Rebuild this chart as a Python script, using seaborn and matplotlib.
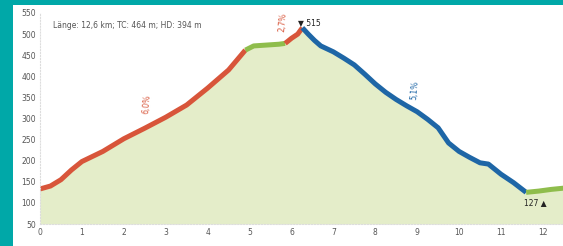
import matplotlib
matplotlib.use("Agg")
import matplotlib.pyplot as plt
import seaborn as sns
import pandas as pd
import numpy as np

# distance (km) and elevation (m) per segment
climb1_km = [0.0, 0.25, 0.5, 0.75, 1.0, 1.5, 2.0, 2.5, 3.0, 3.5, 4.0, 4.5, 4.9]
climb1_m = [133, 140, 155, 178, 198, 222, 252, 277, 303, 332, 372, 415, 462]
flat1_km = [4.9, 5.1, 5.4, 5.7, 5.85]
flat1_m = [462, 472, 474, 476, 478]
climb2_km = [5.85, 6.0, 6.15, 6.26]
climb2_m = [478, 490, 500, 515]
descent_km = [6.26, 6.4, 6.55, 6.7, 7.0, 7.25, 7.5, 7.75, 8.0, 8.25, 8.5, 8.75, 9.0, 9.25,
              9.5, 9.75, 10.0, 10.25, 10.5, 10.7, 11.0, 11.3, 11.6]
descent_m = [515, 500, 485, 472, 458, 443, 427, 405, 382, 362, 345, 330, 316, 298,
             278, 242, 222, 208, 195, 192, 168, 148, 125]
flat2_km = [11.6, 11.9, 12.2, 12.5]
flat2_m = [125, 128, 132, 135]

segments = ["climb1", "flat1", "climb2", "descent", "flat2"]
seg_colors = {"climb1": "#d8553a", "flat1": "#8fbd4c", "climb2": "#d8553a",
              "descent": "#1e66a6", "flat2": "#8fbd4c"}

xticks = list(range(0, 13))
yticks = list(range(50, 551, 50))
title_text = "Länge: 12,6 km; TC: 464 m; HD: 394 m"
grade_labels = ["6,0%", "2,7%", "5,1%"]
max_label = "▼ 515"
min_label = "127 ▲"

frames = []
for name, xs, ys in [("climb1", climb1_km, climb1_m), ("flat1", flat1_km, flat1_m),
                     ("climb2", climb2_km, climb2_m), ("descent", descent_km, descent_m),
                     ("flat2", flat2_km, flat2_m)]:
    frames.append(pd.DataFrame({"km": xs, "m": ys, "seg": name}))
df = pd.concat(frames, ignore_index=True)
profile = df.drop_duplicates(subset="km").sort_values("km")

sns.set_style("white")
plt.rcParams['font.family'] = ['DejaVu Sans']

W, H = 563, 246
fig = plt.figure(figsize=(W / 100, H / 100), dpi=100)
fig.patch.set_facecolor("#00a8a8")
# white panel
panel = fig.add_axes([13 / W, 0, 1 - 13 / W, 1 - 5 / H])
panel.set_facecolor("white")
panel.set_xticks([]); panel.set_yticks([])
for s in panel.spines.values():
    s.set_visible(False)

ax = fig.add_axes([40 / W, 22 / H, (W - 40) / W, (224 - 13) / H])
ax.set_facecolor("none")
ax.fill_between(profile["km"], profile["m"], 50, color="#e4edc9", lw=0, zorder=1)
for seg in segments:
    sub = df[df["seg"] == seg]
    sns.lineplot(data=sub, x="km", y="m", ax=ax, color=seg_colors[seg], lw=3.6,
                 sort=False, zorder=3, legend=False, solid_capstyle="butt")

ax.set_xlim(0, 12.48)
ax.set_ylim(50, 550)
ax.set_xticks(xticks)
ax.set_yticks(yticks)
ax.set_xlabel(""); ax.set_ylabel("")
ax.tick_params(labelsize=5.5, colors="#555555", length=0, pad=3)
for s in ["top", "right"]:
    ax.spines[s].set_visible(False)
ax.spines["left"].set_color("#dddddd")
ax.spines["bottom"].set_color("#dddddd")
ax.spines["left"].set_linestyle(":")
ax.spines["bottom"].set_linestyle(":")
ax.spines["left"].set_zorder(5)

ax.text(0.3, 520, title_text, fontsize=5.5, color="#555555", va="center")
ax.text(2.55, 335, grade_labels[0], fontsize=5.5, color="#d8553a", rotation=85,
        ha="center", va="center")
ax.text(5.8, 528, grade_labels[1], fontsize=5.5, color="#d8553a", rotation=85,
        ha="center", va="center")
ax.text(8.95, 368, grade_labels[2], fontsize=5.5, color="#1e66a6", rotation=85,
        ha="center", va="center")
ax.text(6.15, 528, max_label, fontsize=5.5, color="#222222", va="center")
ax.text(11.55, 100, min_label, fontsize=5.5, color="#222222", va="center")

fig.savefig("out.png", dpi=100, facecolor=fig.get_facecolor())
